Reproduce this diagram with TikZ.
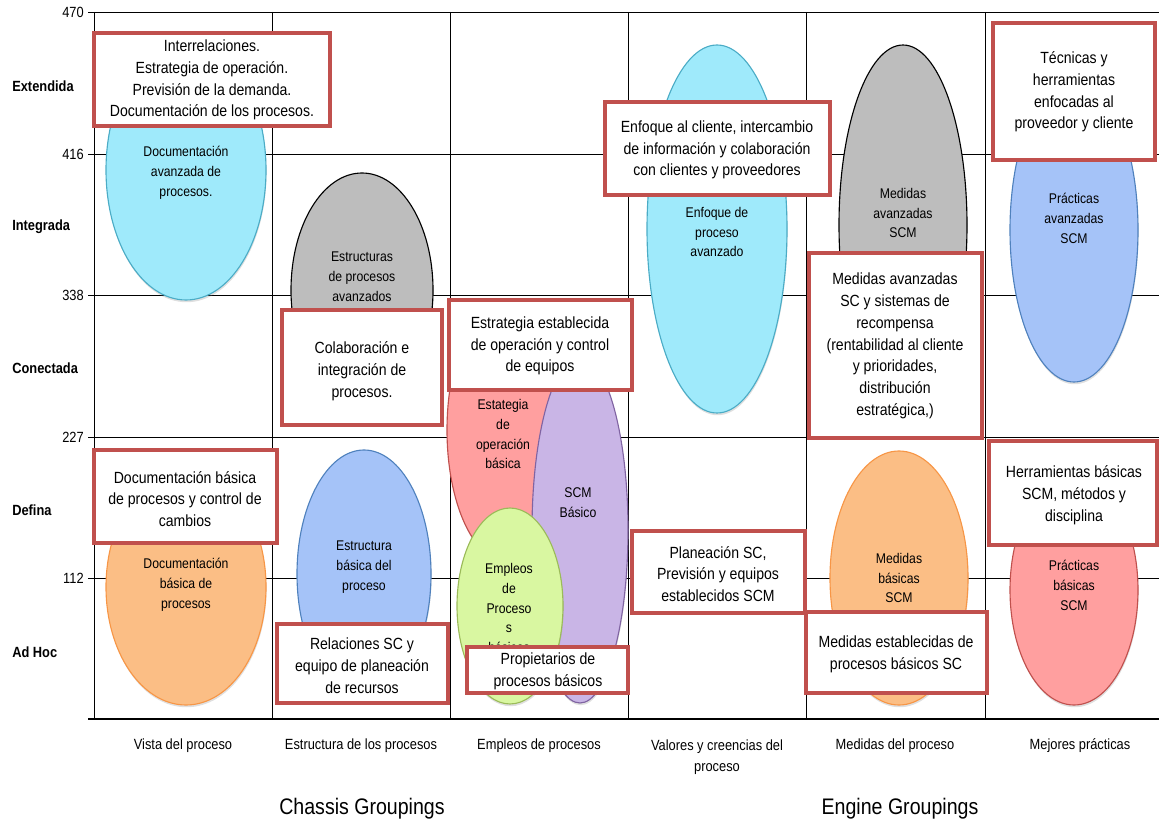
\documentclass[tikz,border=0pt]{standalone}
\usepackage{fontspec}
\setmainfont{Liberation Sans}[FakeStretch=0.87]
\usetikzlibrary{shadows}
\definecolor{cyanfill}{HTML}{9FEAFB}
\definecolor{cyanline}{HTML}{4BACC6}
\definecolor{orangefill}{HTML}{FBBE85}
\definecolor{orangeline}{HTML}{F79646}
\definecolor{bluefill}{HTML}{A5C3F8}
\definecolor{blueline}{HTML}{4F81BD}
\definecolor{grayfill}{HTML}{BDBDBD}
\definecolor{pinkfill}{HTML}{FF9F9F}
\definecolor{pinkline}{HTML}{C0504D}
\definecolor{purplefill}{HTML}{C9B5E6}
\definecolor{purpleline}{HTML}{8064A2}
\definecolor{greenfill}{HTML}{D9F7A1}
\definecolor{greenline}{HTML}{9BBB59}
\definecolor{boxred}{HTML}{C0504D}

\begin{document}
\begin{tikzpicture}[x=0.025cm, y=-0.025cm,
		gridline/.style={line width=0.7pt, color=black},
		bubble/.style={line width=0.8pt, drop shadow={shadow xshift=0.4pt, shadow yshift=-1.6pt, opacity=0.25}},
		redbox/.style={draw=boxred, line width=2.6pt, fill=white},
		boxtxt/.style={align=center, inner sep=0pt, font=\fontsize{11.5}{15.5}\selectfont},
		bubtxt/.style={align=center, inner sep=0pt, font=\fontsize{10}{14.2}\selectfont},
		levtxt/.style={anchor=west, inner sep=0pt, font=\fontsize{10.5}{12}\selectfont\bfseries},
		numtxt/.style={anchor=east, inner sep=0pt, font=\fontsize{10.5}{12}\selectfont},
		coltxt/.style={align=center, inner sep=0pt, font=\fontsize{10.5}{15}\selectfont},
		grptxt/.style={inner sep=0pt, font=\fontsize{16}{18}\selectfont}]
			%%%%% START %%%%%
			\useasboundingbox (0, 0) rectangle (1159, 826);
			
			% rows
			\draw[gridline] (88, 12) -- (1159, 12);
			\draw[gridline] (88, 154) -- (1159, 154);
			\draw[gridline] (88, 295) -- (1159, 295);
			\draw[gridline] (88, 437) -- (1159, 437);
			\draw[gridline] (88, 578) -- (1159, 578);
			
			% columns
			\draw[gridline] (94, 12) -- (94, 719);
			\draw[gridline] (272, 12) -- (272, 719);
			\draw[gridline] (450, 12) -- (450, 719);
			\draw[gridline] (628, 12) -- (628, 719);
			\draw[gridline] (806, 12) -- (806, 719);
			\draw[gridline] (985, 12) -- (985, 719);
			\draw[line width=1.2pt] (88, 719) -- (1159, 719);
			
			\node[numtxt] (n470) at (84, 12) {470};
			\node[numtxt] (n416) at (84, 154) {416};
			\node[numtxt] (n338) at (84, 295) {338};
			\node[numtxt] (n227) at (84, 437) {227};
			\node[numtxt] (n112) at (84, 578) {112};
			
			\node[levtxt] (extendida) at (12, 86) {Extendida};
			\node[levtxt] (integrada) at (12, 227) {Integrada};
			\node[levtxt] (conectada) at (12, 368) {Conectada};
			\node[levtxt] (defina) at (12, 510) {Defina};
			\node[levtxt] (adhoc) at (12, 652) {Ad Hoc};
			
			% bubbles
			\draw[bubble, fill=cyanfill, draw=cyanline] (186, 170) ellipse [x radius=80, y radius=130];
			\node[bubtxt] (docavz) at (186, 173) {Documentación\\avanzada de\\procesos.};
			
			\draw[bubble, fill=grayfill, draw=black] (362, 290) ellipse [x radius=71, y radius=117];
			\node[bubtxt] (estavz) at (362, 277) {Estructuras\\de procesos\\avanzados};
			
			\draw[bubble, fill=pinkfill, draw=pinkline] (505, 430) ellipse [x radius=58, y radius=130];
			\node[bubtxt] (estbas) at (503, 434) {Estategia\\de\\operación\\básica};
			
			\draw[bubble, fill=purplefill, draw=purpleline] (580, 530) ellipse [x radius=48, y radius=173];
			\node[bubtxt] (scmbas) at (578, 503) {SCM\\Básico};
			
			\draw[bubble, fill=greenfill, draw=greenline] (510, 606) ellipse [x radius=53, y radius=98];
			\node[bubtxt] (empbas) at (509, 608) {Empleos\\de\\Proceso\\s\\básicos};
			
			\draw[bubble, fill=cyanfill, draw=cyanline] (717, 229) ellipse [x radius=70, y radius=184];
			\node[bubtxt] (enfavz) at (717, 232) {Enfoque de\\proceso\\avanzado};
			
			\draw[bubble, fill=grayfill, draw=black] (903, 225) ellipse [x radius=64, y radius=180];
			\node[bubtxt] (medavz) at (903, 213) {Medidas\\avanzadas\\SCM};
			
			\draw[bubble, fill=bluefill, draw=blueline] (1074, 230) ellipse [x radius=64, y radius=152];
			\node[bubtxt] (pracavz) at (1074, 218) {Prácticas\\avanzadas\\SCM};
			
			\draw[bubble, fill=orangefill, draw=orangeline] (186, 587) ellipse [x radius=80, y radius=118];
			\node[bubtxt] (docbas) at (186, 585) {Documentación\\básica de\\procesos};
			
			\draw[bubble, fill=bluefill, draw=blueline] (364, 574) ellipse [x radius=67, y radius=124];
			\node[bubtxt] (strbas) at (364, 567) {Estructura\\básica del\\proceso};
			
			\draw[bubble, fill=orangefill, draw=orangeline] (899, 578) ellipse [x radius=69, y radius=127];
			\node[bubtxt] (medbas) at (899, 578) {Medidas\\básicas\\SCM};
			
			\draw[bubble, fill=pinkfill, draw=pinkline] (1074, 590) ellipse [x radius=64, y radius=115];
			\node[bubtxt] (pracbas) at (1074, 585) {Prácticas\\básicas\\SCM};
			
			% red boxes
			\draw[redbox] (94, 33) rectangle (330, 126);
			\node[boxtxt] (interrel) at (212, 80) {Interrelaciones.\\Estrategia de operación.\\Previsión de la demanda.\\Documentación de los procesos.};
			
			\draw[redbox] (282, 310) rectangle (442, 425);
			\node[boxtxt] (colab) at (362, 371) {Colaboración e\\integración de\\procesos.};
			
			\draw[redbox] (449, 300) rectangle (632, 390);
			\node[boxtxt] (estrat) at (540, 346) {Estrategia establecida\\de operación y control\\de equipos};
			
			\draw[redbox] (605, 102) rectangle (830, 195);
			\node[boxtxt] (enfcli) at (717, 150) {Enfoque al cliente, intercambio\\de información y colaboración\\con clientes y proveedores};
			
			\draw[redbox] (809, 253) rectangle (982, 438);
			\node[boxtxt] (medrec) at (895, 346) {Medidas avanzadas\\SC y sistemas de\\recompensa\\(rentabilidad al cliente\\y prioridades,\\distribución\\estratégica,)};
			
			\draw[redbox] (993, 23) rectangle (1155, 160);
			\node[boxtxt] (techer) at (1074, 92) {Técnicas y\\herramientas\\enfocadas al\\proveedor y cliente};
			
			\draw[redbox] (94, 450) rectangle (277, 543);
			\node[boxtxt] (doccam) at (185, 499) {Documentación básica\\de procesos y control de\\cambios};
			
			\draw[redbox] (277, 624) rectangle (448, 703);
			\node[boxtxt] (relsc) at (362, 666) {Relaciones SC y\\equipo de planeación\\de recursos};
			
			\draw[redbox] (467, 647) rectangle (628, 693);
			\node[boxtxt] (propbas) at (548, 671) {Propietarios de\\procesos básicos};
			
			\draw[redbox] (632, 531) rectangle (805, 613);
			\node[boxtxt] (planeq) at (718, 574) {Planeación SC,\\Previsión y equipos\\establecidos SCM};
			
			\draw[redbox] (806, 612) rectangle (987, 693);
			\node[boxtxt] (medest) at (896, 654) {Medidas establecidas de\\procesos básicos SC};
			
			\draw[redbox] (989, 441) rectangle (1157, 545);
			\node[boxtxt] (herbas) at (1074, 495) {Herramientas básicas\\SCM, métodos y\\disciplina};
			
			% bottom labels
			\node[coltxt] (vista) at (183, 746) {Vista del proceso};
			\node[coltxt] (estruc) at (361, 746) {Estructura de los procesos};
			\node[coltxt] (empleos) at (539, 746) {Empleos de procesos};
			\node[coltxt] (valores) at (717, 757) {Valores y creencias del\\proceso};
			\node[coltxt] (medidas) at (895, 746) {Medidas del proceso};
			\node[coltxt] (mejores) at (1080, 746) {Mejores prácticas};
			
			\node[grptxt] (chassis) at (362, 809) {Chassis Groupings};
			\node[grptxt] (engine) at (900, 809) {Engine Groupings};
			%%%%% END %%%%%
		\end{tikzpicture}
\end{document}
